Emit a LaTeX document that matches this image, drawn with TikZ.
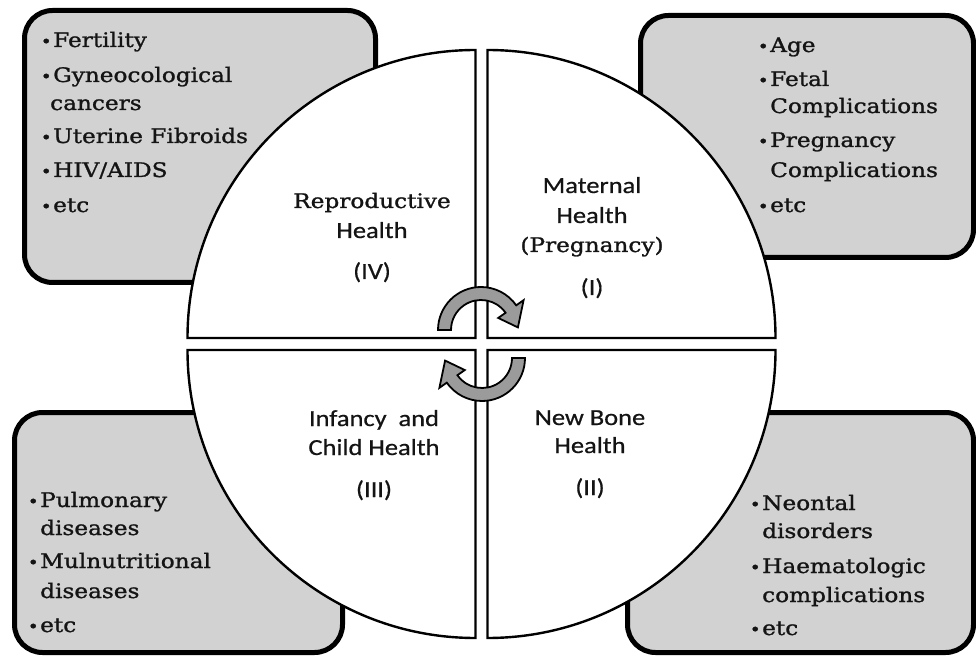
\documentclass[tikz,border=0pt]{standalone}
\usepackage{fontspec}
\newfontfamily\listfont[FakeStretch=1.16,FakeBold=1.2]{DejaVu Serif}
\newfontfamily\labelfont[FakeStretch=1.15,FakeBold=0.6]{Carlito}
\definecolor{boxgray}{RGB}{210,210,210}
\definecolor{arrowgray}{RGB}{155,155,155}
\definecolor{inkgray}{RGB}{20,20,20}
\newcommand{\bulletmark}{\llap{{\fontsize{16}{16}\selectfont •}\hspace{1.5pt}}}
\begin{document}
\begin{tikzpicture}[x=1pt,y=1pt,
  riskbox/.style={draw=black, line width=5pt, fill=boxgray, rounded corners=28pt},
  quarter/.style={draw=black, line width=2.4pt, fill=white},
  cyclearrow/.style={draw=black, line width=1.8pt, fill=arrowgray, line join=miter},
  item/.style={anchor=base west, inner sep=0pt, text=inkgray,
    font=\listfont\fontsize{20}{24}\selectfont},
  qlabel/.style={anchor=base, inner sep=0pt, text=inkgray,
    font=\labelfont\fontsize{23}{27}\selectfont},
  qserif/.style={anchor=base, inner sep=0pt, text=inkgray,
    font=\listfont\fontsize{20}{24}\selectfont},
]
\useasboundingbox (0,0) rectangle (976,659);

% factor boxes behind the wheel
\draw[riskbox] (24.5,376.5) rectangle (375.5,648.5);
\draw[riskbox] (640.5,401.5) rectangle (973.5,643.5);
\draw[riskbox] (14.5,6.5) rectangle (342.5,246.5);
\draw[riskbox] (627.5,6.5) rectangle (973.5,246.5);

% the four quarters of the wheel
\draw[quarter] (487.5,321) -- ++(288,0) arc[start angle=0,end angle=90,radius=288] -- cycle;
\draw[quarter] (475.5,321) -- ++(0,288) arc[start angle=90,end angle=180,radius=288] -- cycle;
\draw[quarter] (475.5,309) -- ++(-288,0) arc[start angle=180,end angle=270,radius=288] -- cycle;
\draw[quarter] (487.5,309) -- ++(0,-288) arc[start angle=270,end angle=360,radius=288] -- cycle;

% cycle arrows in the middle: one over the top, one under the bottom
\coordinate (au) at (481,329);
\coordinate (al) at (482,301);
\draw[cyclearrow] ([shift={(180:43)}]au) arc[start angle=180,end angle=35,radius=43]
  -- ([shift={(35:52)}]au) -- ([shift={(4:37)}]au) -- ([shift={(35:21)}]au)
  -- ([shift={(35:30)}]au) arc[start angle=35,end angle=180,radius=30] -- cycle;
\draw[cyclearrow] ([shift={(0:43)}]al) arc[start angle=0,end angle=-145,radius=43]
  -- ([shift={(215:52)}]al) -- ([shift={(184:37)}]al) -- ([shift={(215:21)}]al)
  -- ([shift={(215:30)}]al) arc[start angle=215,end angle=360,radius=30] -- cycle;

% quarter labels
\node[qserif] (q4a) at (372,451) {Reproductive};
\node[qlabel] (q4b) at (372,421) {Health};
\node[qlabel] (q4c) at (372,380) {(IV)};

\node[qlabel] (q1a) at (592,466) {Maternal};
\node[qlabel] (q1b) at (592,436) {Health};
\node[qserif] (q1c) at (592,407) {(Pregnancy)};
\node[qlabel] (q1d) at (592,364) {(I)};

\node[qlabel] (q3a) at (374,233) {Infancy\ \ and};
\node[qlabel] (q3b) at (374,204) {Child Health};
\node[qlabel] (q3c) at (374,162) {(III)};

\node[qlabel] (q2a) at (590,234) {New Bone};
\node[qlabel] (q2b) at (590,206) {Health};
\node[qlabel] (q2c) at (590,164) {(II)};

% reproductive health factors
\node[item] (tl1) at (53,612) {\bulletmark Fertility};
\node[item] (tl2) at (53,577) {\bulletmark Gyneocological};
\node[item] (tl3) at (50,549) {cancers};
\node[item] (tl4) at (53,516) {\bulletmark Uterine Fibroids};
\node[item] (tl5) at (53,482) {\bulletmark HIV/AIDS};
\node[item] (tl6) at (53,447) {\bulletmark etc};

% maternal health factors
\node[item] (tr1) at (770,607) {\bulletmark Age};
\node[item] (tr2) at (770,573) {\bulletmark Fetal};
\node[item] (tr3) at (770,546) {Complications};
\node[item] (tr4) at (770,512) {\bulletmark Pregnancy};
\node[item] (tr5) at (770,482) {Complications};
\node[item] (tr6) at (770,447) {\bulletmark etc};

% infancy and child health factors
\node[item] (bl1) at (40,152) {\bulletmark Pulmonary};
\node[item] (bl2) at (40,124) {diseases};
\node[item] (bl3) at (40,91) {\bulletmark Mulnutritional};
\node[item] (bl4) at (40,61) {diseases};
\node[item] (bl5) at (40,27) {\bulletmark etc};

% new born health factors
\node[item] (br1) at (762,149) {\bulletmark Neontal};
\node[item] (br2) at (762,121) {disorders};
\node[item] (br3) at (762,86) {\bulletmark Haematologic};
\node[item] (br4) at (762,57) {complications};
\node[item] (br5) at (762,24) {\bulletmark etc};
\end{tikzpicture}
\end{document}
